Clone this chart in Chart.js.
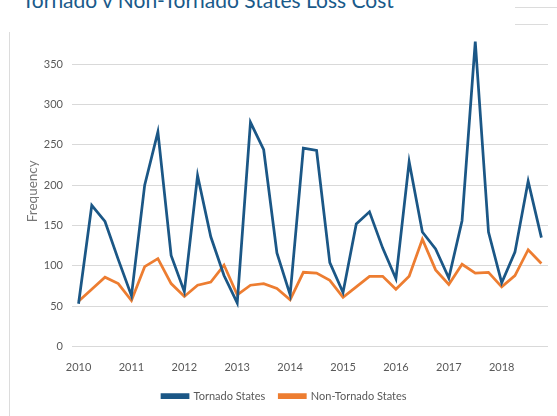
<!DOCTYPE html>
<html>
<head>
<meta charset="utf-8">
<script src="https://cdn.jsdelivr.net/npm/chart.js@4"></script>
<style>
  body { margin: 0; width: 557px; height: 416px; overflow: hidden; background: #fff; position: relative; }
  #title { position: absolute; left: 22px; top: -13px; font-family: Lato, sans-serif; font-size: 21px; color: #1a5a8a; white-space: nowrap; }
  .deco { position: absolute; background: #dcdcdc; height: 1px; }
  #frame { position: absolute; left: 9px; top: 32px; width: 1px; height: 384px; background: #dcdcdc; }
  #wrap { position: absolute; left: 0; top: 0; width: 557px; height: 416px; }
</style>
</head>
<body>
<div id="title">Tornado v Non-Tornado States Loss Cost</div>
<div class="deco" style="left:515px; top:7px; width:42px;"></div>
<div class="deco" style="left:515px; top:24px; width:33px;"></div>
<div id="frame"></div>
<div id="wrap"><canvas id="loss_chart"></canvas></div>
<script>
// quarters 2010 Q1 .. 2018 Q4
const years = ['2010','2011','2012','2013','2014','2015','2016','2017','2018'];
const quarters = [];
years.forEach(y => { for (let q = 1; q <= 4; q++) quarters.push(y + ' Q' + q); });

const tornado_states = [
	53, 175, 155, 108,
	63, 200, 266, 113,
	68, 212, 136, 88,
	54, 278, 244, 116,
	64, 246, 243, 104,
	67, 152, 167, 122,
	84, 229, 142, 121,
	85, 156, 378, 142,
	79, 117, 205, 135
];
const non_tornado_states = [
	56, 71, 86, 78,
	57, 99, 109, 78,
	62, 76, 80, 101,
	64, 76, 78, 72,
	58, 92, 91, 82,
	61, 74, 87, 87,
	71, 87, 133, 95,
	77, 102, 91, 92,
	74, 88, 120, 103
];

const ctx = document.getElementById('loss_chart').getContext('2d');
const grey = '#595959';

new Chart(ctx, {
	type: 'line',
	data: {
		labels: quarters,
		datasets: [{
			label: 'Tornado States',
			data: tornado_states,
			borderColor: '#1b5786',
			backgroundColor: '#1b5786',
			borderWidth: 2.75,
			pointRadius: 0,
			tension: 0
		},
		{
			label: 'Non-Tornado States',
			data: non_tornado_states,
			borderColor: '#ed7d31',
			backgroundColor: '#ed7d31',
			borderWidth: 2.75,
			pointRadius: 0,
			tension: 0
		}]
	},
	options: {
		responsive: true,
		maintainAspectRatio: false,
		animation: false,
		layout: { padding: { left: 20.6, right: 9, top: 36, bottom: 4.5 } },
		plugins: {
			legend: {
				position: 'bottom',
				labels: {
					color: grey,
					font: { family: 'Lato', size: 11 },
					boxWidth: 26,
					boxHeight: 3,
					padding: 14
				}
			},
			tooltip: { enabled: false }
		},
		scales: {
			x: {
				offset: true,
				grid: { display: false, drawTicks: false },
				border: { display: false },
				afterFit: (scale) => { scale.height = 30; },
				ticks: {
					color: grey,
					font: { family: 'Lato', size: 11 },
					autoSkip: false,
					maxRotation: 0,
					padding: 14,
					callback: (v, i) => i % 4 === 0 ? quarters[i].slice(0, 4) : ''
				}
			},
			y: {
				min: 0,
				max: 385,
				grid: { color: '#d9d9d9', drawTicks: false },
				border: { display: false },
				ticks: {
					stepSize: 50,
					includeBounds: false,
					color: grey,
					font: { family: 'Lato', size: 11 },
					padding: 9
				},
				title: {
					display: true,
					text: 'Frequency',
					color: '#767676',
					font: { family: 'Lato', size: 13.5 },
					padding: { top: 4, bottom: -6 }
				}
			}
		}
	}
});
</script>
</body>
</html>
